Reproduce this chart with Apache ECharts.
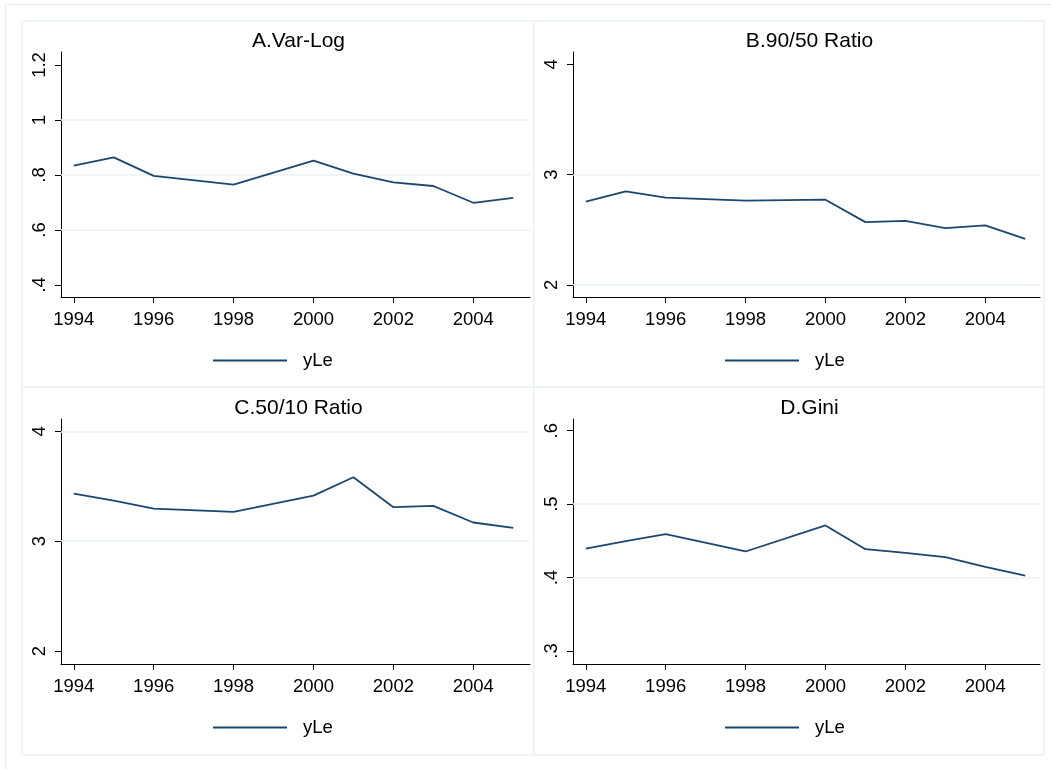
<!DOCTYPE html>
<html>
<head>
<meta charset="utf-8">
<style>
  html, body { margin: 0; padding: 0; background: #fff; }
  #main { width: 1051px; height: 769px; }
</style>
<script src="https://cdn.jsdelivr.net/npm/echarts@6/dist/echarts.min.js"></script>
</head>
<body>
<div id="main"></div>
<script>
// values (1997 and 1999 not drawn)
var years = [1994, 1995, 1996, 1998, 2000, 2001, 2002, 2003, 2004, 2005]
var varLog = [0.834, 0.864, 0.797, 0.765, 0.852, 0.805, 0.773, 0.760, 0.699, 0.717]
var ratio9050 = [2.755, 2.849, 2.791, 2.764, 2.773, 2.570, 2.582, 2.515, 2.540, 2.418]
var ratio5010 = [3.433, 3.370, 3.297, 3.267, 3.415, 3.582, 3.309, 3.321, 3.170, 3.121]
var gini = [0.4395, 0.4495, 0.459, 0.4355, 0.471, 0.4386, 0.4336, 0.4277, 0.4145, 0.4027]

var xTicks = [1994, 1996, 1998, 2000, 2002, 2004]
var yTicksA = [0.4, 0.6, 0.8, 1, 1.2]
var yTicksB = [2, 3, 4]
var yTicksC = [2, 3, 4]
var yTicksD = [0.3, 0.4, 0.5, 0.6]
var gridLinesA = [0.6, 0.8, 1]
var gridLinesB = [2, 3]
var gridLinesC = [3, 4]
var gridLinesD = [0.4, 0.5]

var titles = ['A.Var-Log', 'B.90/50 Ratio', 'C.50/10 Ratio', 'D.Gini']
var legendName = 'yLe'

var font = 'Liberation Sans, Arial, sans-serif'
var navy = '#1a476f'
var pale = '#eaf2f3'

var panels = [
  { data: varLog, ticks: yTicksA, lines: gridLinesA, min: 0.3564, max: 1.2473, left: 61, top: 52 },
  { data: ratio9050, ticks: yTicksB, lines: gridLinesB, min: 1.891, max: 4.112, left: 573, top: 52 },
  { data: ratio5010, ticks: yTicksC, lines: gridLinesC, min: 1.882, max: 4.112, left: 61, top: 419 },
  { data: gini, ticks: yTicksD, lines: gridLinesD, min: 0.2823, max: 0.6159, left: 573, top: 419 }
]

function fmt(v) {
  return String(v).replace(/^0\./, '.')
}

var myChart = echarts.init(document.getElementById('main'))

var option = {
  animation: false,
  backgroundColor: '#fff',
  textStyle: { fontFamily: font },
  title: [],
  legend: [],
  grid: [],
  xAxis: [],
  yAxis: [],
  series: [],
  graphic: [{
    type: 'rect',
    shape: { x: 5.5, y: 4.5, width: 1100, height: 800 },
    style: { fill: null, stroke: pale, lineWidth: 1.5 },
    silent: true
  }]
}

panels.forEach(function(p, i) {
  var w = i % 2 === 0 ? 469 : 467
  var h = 245
  var boxLeft = i % 2 === 0 ? 22 : 533.7
  var boxTop = i < 2 ? 21 : 387.3
  option.graphic.push({
    type: 'rect',
    shape: { x: boxLeft, y: boxTop, width: i % 2 === 0 ? 511.7 : 510.3, height: i < 2 ? 366.3 : 367.4 },
    style: { fill: null, stroke: pale, lineWidth: 1.5 },
    silent: true
  })
  option.grid.push({ left: p.left, top: p.top, width: w, height: h })
  option.title.push({
    text: titles[i],
    left: p.left + w / 2 - 2,
    top: p.top - 26,
    textAlign: 'center',
    textStyle: { fontFamily: font, fontSize: 21, fontWeight: 'normal', color: '#000' }
  })
  option.legend.push({
    data: [legendName],
    left: i % 2 === 0 ? 213 : 725,
    top: p.top + 299,
    padding: 0,
    icon: 'rect',
    itemWidth: 74,
    itemHeight: 2,
    textStyle: { fontFamily: font, fontSize: 18.5, color: '#000', padding: [0, 0, 0, 11] }
  })
  option.xAxis.push({
    type: 'value',
    gridIndex: i,
    min: 1993.68,
    max: 1993.68 + w / 39.95,
    axisLine: { show: true, lineStyle: { color: '#000', width: 1 } },
    axisTick: { show: true, length: 6, customValues: xTicks, lineStyle: { color: '#000' } },
    axisLabel: {
      customValues: xTicks, margin: 13, fontFamily: font, fontSize: 18.5, color: '#000',
      formatter: function(v) { return String(v) }
    },
    splitLine: { show: false }
  })
  option.yAxis.push({
    type: 'value',
    gridIndex: i,
    min: p.min,
    max: p.max,
    axisLine: { show: true, lineStyle: { color: '#000', width: 1 } },
    axisTick: { show: true, length: 6, customValues: p.ticks, lineStyle: { color: '#000' } },
    axisLabel: {
      customValues: p.ticks, rotate: 90, margin: 12,
      fontFamily: font, fontSize: 18.5, color: '#000',
      formatter: fmt
    },
    splitLine: { show: false }
  })
  option.series.push({
    name: legendName,
    type: 'line',
    xAxisIndex: i,
    yAxisIndex: i,
    data: years.map(function(y, k) { return [y, p.data[k]] }),
    showSymbol: false,
    symbol: 'none',
    color: navy,
    lineStyle: { color: navy, width: 1.8 },
    markLine: {
      silent: true,
      z: 1,
      symbol: ['none', 'none'],
      label: { show: false },
      lineStyle: { color: pale, width: 1.5, type: 'solid' },
      emphasis: { disabled: true },
      data: p.lines.map(function(v) { return { yAxis: v } })
    }
  })
})

myChart.setOption(option)
window.addEventListener('resize', function() {
  myChart.resize()
})
</script>
</body>
</html>
